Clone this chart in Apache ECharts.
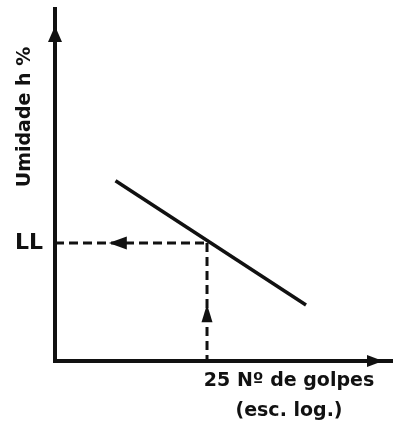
<!DOCTYPE html>
<html><head><meta charset="utf-8">
<script src="https://cdn.jsdelivr.net/npm/echarts@6/dist/echarts.min.js"></script>
<style>html,body{margin:0;padding:0;background:#fff}#c{width:393px;height:430px}</style>
</head><body><div id="c"></div>
<script>
// ---- data ----
const golpes = [14.4, 45.4];          // Nº de golpes (log scale) at line ends
const umidade = [51.2, 15.9];         // humidity % at line ends
const LL = 33.5;                      // liquid limit humidity
const golpesLL = 25;                  // 25 blows
const xTickLabels = ['25 Nº de golpes', '(esc. log.)'];
const yTickLabels = ['LL'];
const yAxisTitle = 'Umidade h %';
const xRange = [10, 76.7];
const yRange = [0, 100];
const arrowLeftX = 14.6;              // arrow on horizontal dashed line (x value)
const arrowUpY = 13.6;                // arrow on vertical dashed line (y value)

const ink = '#111';
const font = 'DejaVu Sans';
const chart = echarts.init(document.getElementById('c'));
chart.setOption({
  animation: false,
  backgroundColor: '#fff',
  grid: {left: 55, right: 0, top: 9, bottom: 69, containLabel: false, outerBoundsMode: 'none'},
  xAxis: {
    type: 'log', logBase: golpesLL, min: xRange[0], max: xRange[1],
    axisLine: {lineStyle: {color: ink, width: 4, cap: 'square'}, symbol: ['none', 'triangle'], symbolSize: [12, 16], symbolOffset: [0, -18]},
    axisTick: {show: false}, splitLine: {show: false}, minorTick: {show: false},
    axisLabel: {
      formatter: v => Math.abs(v - golpesLL) < 1e-6 ? xTickLabels.join('\n') : '',
      color: ink, fontFamily: font, fontWeight: 'bold', fontSize: 19, lineHeight: 30,
      align: 'center', padding: [0, 0, 0, 164], margin: 5, hideOverlap: false
    }
  },
  yAxis: {
    type: 'value', min: yRange[0], max: yRange[1], interval: LL,
    axisLine: {show: true, lineStyle: {color: ink, width: 4, cap: 'square'}, symbol: ['none', 'triangle'], symbolSize: [14, 16], symbolOffset: [0, -25]},
    axisTick: {show: false}, splitLine: {show: false},
    axisLabel: {
      formatter: v => Math.abs(v - LL) < 1e-6 ? yTickLabels[0] : '',
      color: ink, fontFamily: font, fontWeight: 'bold', fontSize: 22, margin: 12
    }
  },
  graphic: [{
    type: 'text', x: 25, y: 117, rotation: Math.PI / 2,
    style: {text: yAxisTitle, align: 'center', verticalAlign: 'middle', font: 'bold 19px "DejaVu Sans"', fill: ink}
  }],
  series: [
    {type: 'line', data: [[xRange[0], LL], [golpesLL, LL]], symbol: 'none', z: 2,
     lineStyle: {color: ink, width: 3, type: [9, 5]}},
    {type: 'line', data: [[golpesLL, LL], [golpesLL, yRange[0]]], symbol: 'none', z: 2,
     lineStyle: {color: ink, width: 3, type: [9, 5]}},
    {type: 'line', data: golpes.map((g, i) => [g, umidade[i]]), symbol: 'none', z: 3,
     lineStyle: {color: ink, width: 3.5}},
    {type: 'scatter', data: [[arrowLeftX, LL]], symbol: 'triangle', symbolSize: [13, 18], symbolRotate: 90,
     itemStyle: {color: ink, opacity: 1}, z: 4},
    {type: 'scatter', data: [[golpesLL, arrowUpY]], symbol: 'triangle', symbolSize: [11, 18], symbolRotate: 0,
     itemStyle: {color: ink, opacity: 1}, z: 4}
  ]
});
</script></body></html>
